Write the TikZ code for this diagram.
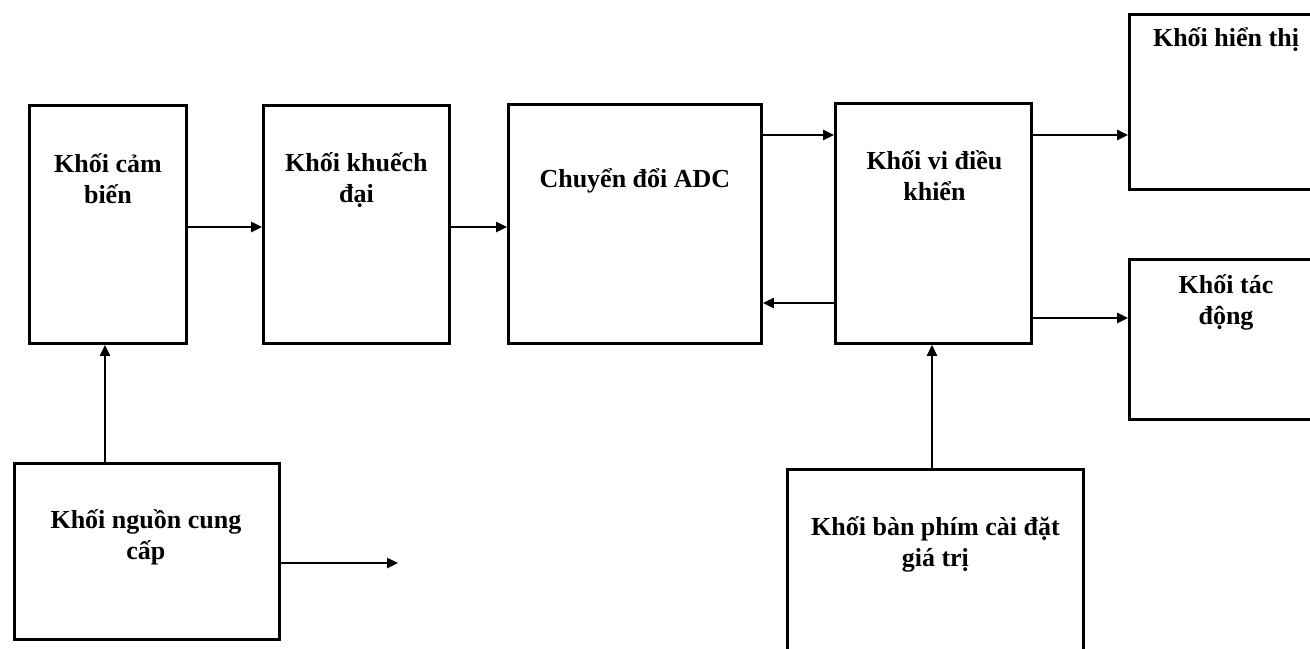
\documentclass[tikz,border=0pt]{standalone}
\usepackage{fontspec}
\setmainfont{Liberation Serif}
\usetikzlibrary{arrows.meta,calc}

% centred lines whose baseline is that of the first line
\newcommand\stack[1]{\vtop{\baselineskip=31bp\halign{\hfil##\hfil\cr#1\crcr}}}

\tikzset{
  block/.style={draw=black, line width=2.8bp, rectangle, inner sep=0pt, anchor=north west},
  caption/.style={anchor=base, inner sep=0pt, font=\fontsize{26bp}{31bp}\selectfont\bfseries},
  flow/.style={draw=black, line width=2.4bp, -{Triangle[length=11bp,width=10bp]}},
}

\begin{document}
\begin{tikzpicture}[x=1bp, y=-1bp]
  \useasboundingbox (0,0) rectangle (1310,649);
  \clip (0,0) rectangle (1310,649);

  % blocks
  \node[block, minimum width=157bp, minimum height=238bp] (sensor)   at (28,104)  {};
  \node[block, minimum width=186bp, minimum height=238bp] (amp)      at (262,104) {};
  \node[block, minimum width=253bp, minimum height=239bp] (adc)      at (507,103) {};
  \node[block, minimum width=196bp, minimum height=240bp] (mcu)      at (834,102) {};
  \node[block, minimum width=220bp, minimum height=175bp] (display)  at (1128,13) {};
  \node[block, minimum width=220bp, minimum height=160bp] (actuator) at (1128,258) {};
  \node[block, minimum width=265bp, minimum height=176bp] (power)    at (13,462)  {};
  \node[block, minimum width=296bp, minimum height=220bp] (keypad)   at (786,468) {};

  % block captions
  \node[caption] (tsensor)   at ($(sensor.north)+(0,68)$)   {\stack{Khối cảm\cr biến}};
  \node[caption] (tamp)      at ($(amp.north)+(0,67)$)      {\stack{Khối khuếch\cr đại}};
  \node[caption] (tadc)      at ($(adc.north)+(0,84)$)      {\stack{Chuyển đổi ADC}};
  \node[caption] (tmcu)      at ($(mcu.north)+(1,67)$)      {\stack{Khối vi điều\cr khiển}};
  \node[caption] (tdisplay)  at (1226,47)                   {\stack{Khối hiển thị}};
  \node[caption] (tactuator) at (1226,293)                  {\stack{Khối tác\cr động}};
  \node[caption] (tpower)    at ($(power.north)+(-1,66)$)   {\stack{Khối nguồn cung\cr cấp}};
  \node[caption] (tkeypad)   at ($(keypad.north)+(0,67)$)   {\stack{Khối bàn phím cài đặt\cr giá trị}};

  % signal levels
  \coordinate (yA) at (0,227);
  \coordinate (yB) at (0,135);
  \coordinate (yC) at (0,303);
  \coordinate (yD) at (0,318);
  \coordinate (xA) at (105,0);
  \coordinate (xB) at (932,0);
  \coordinate (out) at (398,563);

  % connections
  \draw[flow] (sensor.east |- yA) -- (amp.west |- yA);
  \draw[flow] (amp.east |- yA) -- (adc.west |- yA);
  \draw[flow] (adc.east |- yB) -- (mcu.west |- yB);
  \draw[flow] (mcu.west |- yC) -- (adc.east |- yC);
  \draw[flow] (mcu.east |- yB) -- (display.west |- yB);
  \draw[flow] (mcu.east |- yD) -- (actuator.west |- yD);
  \draw[flow] (xA |- power.north) -- (xA |- sensor.south);
  \draw[flow] (xB |- keypad.north) -- (xB |- mcu.south);
  \draw[flow] (power.east |- out) -- (out);
\end{tikzpicture}
\end{document}
